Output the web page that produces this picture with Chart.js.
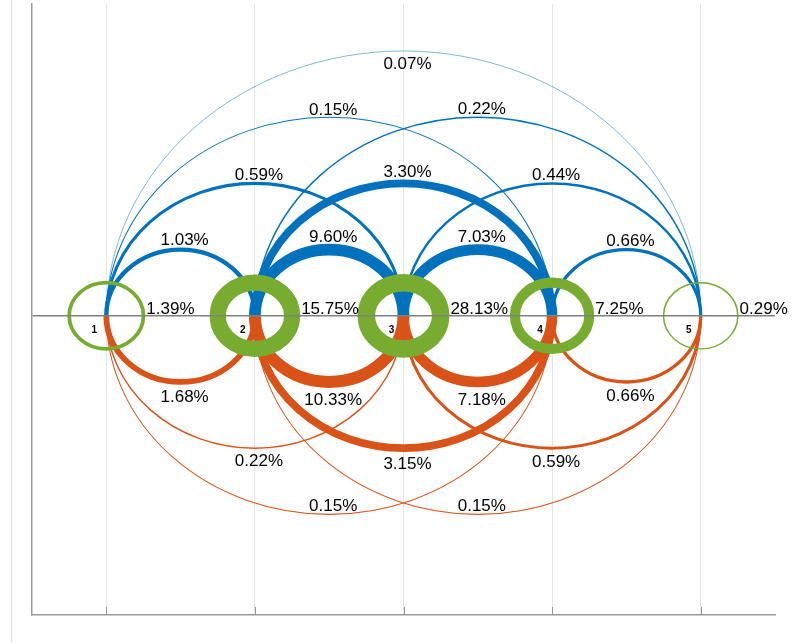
<!DOCTYPE html>
<html>
<head>
<meta charset="utf-8">
<title>State transitions</title>
<script src="https://cdn.jsdelivr.net/npm/chart.js@4.4.1/dist/chart.umd.min.js"></script>
<style>
  html, body { margin: 0; padding: 0; background: #fff; }
  #wrap { position: relative; width: 810px; height: 643px; }
  #edge { position: absolute; left: 11px; top: 0; width: 1px; height: 643px; background: #dedede; }
  #arcs { position: absolute; left: 0; top: 0; }
</style>
</head>
<body>
<div id="wrap">
  <div id="edge"></div>
  <canvas id="arcs" width="810" height="643"></canvas>
</div>
<script>
// states on the x axis and the share of steps that stay in the same state
const states = [1, 2, 3, 4, 5];
const stayPct = [1.39, 15.75, 28.13, 7.25, 0.29];

// moves to a higher state (drawn above the axis)
const upFrom = [1, 1, 1, 1, 2, 2, 2, 3, 3, 4];
const upTo = [2, 3, 4, 5, 3, 4, 5, 4, 5, 5];
const upPct = [1.03, 0.59, 0.15, 0.07, 9.60, 3.30, 0.22, 7.03, 0.44, 0.66];

// moves to a lower state (drawn below the axis)
const downFrom = [2, 3, 4, 3, 4, 5, 4, 5, 5];
const downTo = [1, 1, 1, 2, 2, 2, 3, 3, 4];
const downPct = [1.68, 0.22, 0.15, 10.33, 3.15, 0.15, 7.18, 0.59, 0.66];

const BLUE = "#0072BD";
const ORANGE = "#D95319";
const GREEN = "#77AC30";
const RING_R = 0.25;
const FONT = "17px 'Liberation Sans', Arial, sans-serif";
const CAP = 12.2;

const arcWidth = (p) => 3.9 * Math.log(1 + p / 0.5);
const ringWidth = (p) => Math.min(17.5, 3.1 * Math.pow(p, 0.6));
const fmt = (p) => p.toFixed(2) + "%";

function geom(chart, a, b) {
  const { x, y } = chart.scales;
  const mid = (a + b) / 2;
  const r = Math.abs(b - a) / 2;
  return {
    cx: x.getPixelForValue(mid),
    rx: x.getPixelForValue(mid + r) - x.getPixelForValue(mid),
    ry: y.getPixelForValue(0) - y.getPixelForValue(r),
  };
}

const arcDiagram = {
  id: "arcDiagram",
  afterDatasetsDraw(chart) {
    const { ctx, scales: { x, y } } = chart;
    const y0 = y.getPixelForValue(0);
    ctx.save();
    ctx.lineCap = "butt";

    const drawSet = (from, to, pct, color, above) => {
      from.forEach((a, i) => {
        const g = geom(chart, a, to[i]);
        ctx.beginPath();
        if (above) ctx.ellipse(g.cx, y0, g.rx, g.ry, 0, Math.PI, 2 * Math.PI);
        else ctx.ellipse(g.cx, y0, g.rx, g.ry, 0, 0, Math.PI);
        ctx.strokeStyle = color;
        ctx.lineWidth = arcWidth(pct[i]);
        ctx.stroke();
      });
    };
    drawSet(upFrom, upTo, upPct, BLUE, true);
    drawSet(downFrom, downTo, downPct, ORANGE, false);

    // self transitions as rings round each state
    states.forEach((s, i) => {
      const rx = x.getPixelForValue(s + RING_R) - x.getPixelForValue(s);
      const ry = y0 - y.getPixelForValue(RING_R);
      ctx.beginPath();
      ctx.ellipse(x.getPixelForValue(s), y0, rx, ry, 0, 0, 2 * Math.PI);
      ctx.strokeStyle = GREEN;
      ctx.lineWidth = ringWidth(stayPct[i]);
      ctx.stroke();
    });
    ctx.restore();
  },
  afterDraw(chart) {
    const { ctx, chartArea, scales: { x, y } } = chart;
    const y0 = y.getPixelForValue(0);
    ctx.save();

    // inward tick marks on the bottom axis
    ctx.strokeStyle = "#9a9a9a";
    ctx.lineWidth = 1;
    x.ticks.forEach((t) => {
      const px = Math.round(x.getPixelForValue(t.value)) + 0.5;
      ctx.beginPath();
      ctx.moveTo(px, chartArea.bottom);
      ctx.lineTo(px, chartArea.bottom - 8);
      ctx.stroke();
    });

    ctx.fillStyle = "#000";
    ctx.font = FONT;
    ctx.textAlign = "center";
    ctx.textBaseline = "alphabetic";

    const labelSet = (from, to, pct, above) => {
      const widest = Math.max(...from.map((a, i) => Math.abs(to[i] - a)));
      from.forEach((a, i) => {
        const g = geom(chart, a, to[i]);
        const w = arcWidth(pct[i]);
        const inside = Math.abs(to[i] - a) === widest;
        let ty;
        if (above) ty = inside ? y0 - g.ry + 6 + CAP : y0 - g.ry - w / 2 - 2;
        else ty = inside ? y0 + g.ry - 3 : y0 + g.ry + w / 2 + 5 + CAP;
        ctx.fillText(fmt(pct[i]), g.cx + 4, ty);
      });
    };
    labelSet(upFrom, upTo, upPct, true);
    labelSet(downFrom, downTo, downPct, false);

    ctx.textAlign = "left";
    states.forEach((s, i) => {
      const px = x.getPixelForValue(s + RING_R) + ringWidth(stayPct[i]) / 2 + 1;
      ctx.fillText(fmt(stayPct[i]), px, y0 - 2);
    });

    // state numbers
    ctx.font = "bold 10px 'Liberation Sans', Arial, sans-serif";
    ctx.textAlign = "center";
    ctx.textBaseline = "middle";
    states.forEach((s) => {
      ctx.fillText(String(s), x.getPixelForValue(s) - 12, y0 + 14);
    });
    ctx.restore();
  },
};

new Chart(document.getElementById("arcs"), {
  type: "scatter",
  data: {
    datasets: [
      {
        label: "states",
        data: states.map((s) => ({ x: s, y: 0 })),
        pointRadius: 0,
        showLine: false,
      },
    ],
  },
  options: {
    responsive: false,
    animation: false,
    events: [],
    layout: { padding: { left: 32, right: 35, top: 4, bottom: 28 } },
    plugins: { legend: { display: false }, tooltip: { enabled: false } },
    scales: {
      x: {
        type: "linear",
        min: 0.5,
        max: 5.5,
        afterBuildTicks: (axis) => { axis.ticks = states.map((v) => ({ value: v })); },
        ticks: { display: false },
        grid: { color: "#e6e6e6", lineWidth: 1, drawTicks: false },
        border: { color: "#9a9a9a", width: 1.5 },
      },
      y: {
        type: "linear",
        min: -2.26,
        max: 2.355,
        afterBuildTicks: (axis) => { axis.ticks = [{ value: 0 }]; },
        ticks: { display: false },
        // the zero line sits over the rings; the border layer has to follow it
        grid: { color: "#808080", lineWidth: 1.5, drawTicks: false, z: 1 },
        border: { color: "#9a9a9a", width: 1.5, z: 1 },
      },
    },
  },
  plugins: [arcDiagram],
});
</script>
</body>
</html>
